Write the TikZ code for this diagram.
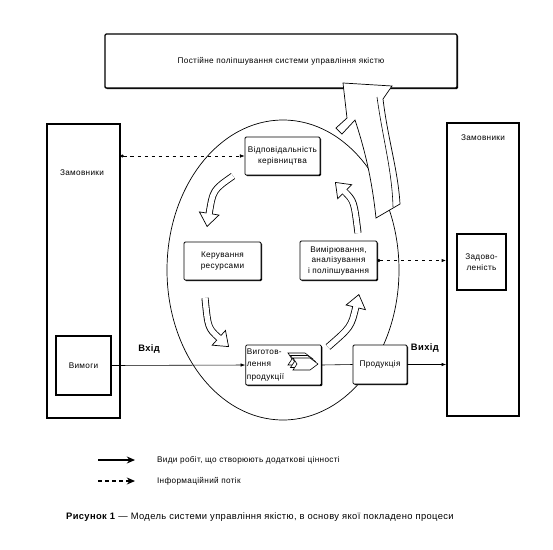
\documentclass[tikz,border=0pt]{standalone}
\usepackage{fontspec}
\setmainfont{Liberation Sans}[LetterSpace=4]
\usetikzlibrary{positioning,calc,arrows.meta,shadows}

\begin{document}
\begin{tikzpicture}[x=0.03cm,y=-0.03cm,>=Latex,font=\fontsize{7}{9}\selectfont,
      box/.style={draw,fill=white,line width=0.7pt,rounded corners=1pt,align=center,inner sep=1pt,
        drop shadow={shadow xshift=0.9pt,shadow yshift=-0.9pt,fill=black,opacity=1}},
      cust/.style={draw,fill=white,line width=1.3pt,align=center},
      cyc/.style={line width=6pt,-{Triangle[length=12pt,width=18pt,fill=white,line width=0.6pt]},
        postaction={draw=white,line width=4.6pt,-,shorten >=11pt}},
      info/.style={dashed,{Circle[length=2.5pt]}-{Latex[length=4pt]}},
      work/.style={line width=0.5pt,-{Latex[length=4pt]}},
      lbl/.style={font=\fontsize{8}{10}\selectfont\bfseries}]
    \useasboundingbox (0,0) rectangle (553,549);
    \node[box,drop shadow={opacity=0},line width=1.1pt,minimum width=10.56cm,minimum height=1.62cm] (impr) at (281,61)
      {Постійне поліпшування системи управління якістю};
    \draw[line width=0.6pt] (283,270) ellipse [x radius=116, y radius=150];
    % big arrow to the top box
    \draw[fill=white,line width=0.6pt] (343,83) -- (392,86) -- (383,99)
      .. controls (388,140) and (398,170) .. (400,204) -- (376,218)
      .. controls (372,180) and (365,150) .. (355,120) -- (342,134) -- (336,128) -- (347,118) -- cycle;
    \draw[line width=0.5pt] (377,97) .. controls (383,140) and (392,170) .. (393,207);
    % customers
    \node[cust,minimum width=2.19cm,minimum height=8.82cm] (custL) at (83.5,271) {};
    \node (custLtxt) at (82,173) {Замовники};
    \node[cust,minimum width=1.65cm,minimum height=1.77cm] (req) at (83.5,365.5) {Вимоги};
    \node[cust,minimum width=2.16cm,minimum height=8.79cm] (custR) at (483,269.5) {};
    \node (custRtxt) at (483,138) {Замовники};
    \node[cust,minimum width=1.47cm,minimum height=1.68cm] (sat) at (481.5,262) {Задово-\\леність};
    % processes
    \node[box,minimum width=2.25cm,minimum height=1.14cm] (resp) at (282.5,156) {Відповідальність\\керівництва};
    \node[box,minimum width=2.31cm,minimum height=1.14cm] (res) at (222.5,261) {Керування\\ресурсами};
    \node[box,minimum width=2.31cm,minimum height=1.17cm] (meas) at (338.5,260.5) {Вимірювання,\\аналізування\\і поліпшування};
    \node[box,align=left,text width=2.2cm,minimum height=1.2cm,font=\fontsize{7}{10.5}\selectfont] (prod) at (283.5,365)
      {Виготов-\\лення\\продукції};
    \node[box,minimum width=1.62cm,minimum height=1.17cm] (out) at (380,364.5) {Продукція};
    % process icon
    \foreach \d in {5,2.5,0}
      \draw[fill=white,line width=0.5pt] (293-\d,358-\d) -- (310-\d,358-\d) -- (318-\d,364-\d)
        -- (310-\d,370-\d) -- (293-\d,370-\d) -- (297-\d,364-\d) -- cycle;
    % cycle arrows
    \coordinate (c1a) at (233,176); \coordinate (c1b) at (207,227);
    \coordinate (c2a) at (205,298); \coordinate (c2b) at (229,347);
    \coordinate (c3a) at (328,347); \coordinate (c3b) at (359,294);
    \coordinate (c4a) at (358,233); \coordinate (c4b) at (335,182);
    \draw[cyc] (c1a) .. controls (213,190) .. (c1b);
    \draw[cyc] (c2a) .. controls (208,328) .. (c2b);
    \draw[cyc] (c3a) .. controls (351,327) .. (c3b);
    \draw[cyc] (c4a) .. controls (354,201) .. (c4b);
    % flows
    \draw[info] (custL.east |- resp.west) -- (resp.west);
    \draw[info,line width=1.1pt] (meas.east) -- (custR.west |- meas.east);
    \draw[work] (req.east) -- node[lbl,pos=0.28,above=7pt]{Вхід} (prod.west);
    \draw[line width=0.5pt] (prod.east) -- (out.west);
    \draw[work] (out.east) -- node[lbl,pos=0.45,above=7pt]{Вихід} (custR.west |- out.east);
    % legend
    \coordinate (l1a) at (98,460); \coordinate (l1b) at (135,460);
    \coordinate (l2a) at (98,481); \coordinate (l2b) at (135,481);
    \draw[line width=1pt,-{Stealth[length=7pt,width=6pt]}] (l1a) -- (l1b);
    \draw[line width=1pt,dashed,-{Stealth[length=7pt,width=6pt]}] (l2a) -- (l2b);
    \node[anchor=west] (leg1) at (153,460) {Види робіт, що створюють додаткові цінності};
    \node[anchor=west] (leg2) at (153,481) {Інформаційний потік};
    \node[anchor=west,font=\fontsize{8}{10}\selectfont] (cap) at (62,517)
      {\textbf{Рисунок 1} — Модель системи управління якістю, в основу якої покладено процеси};
  \end{tikzpicture}
\end{document}
